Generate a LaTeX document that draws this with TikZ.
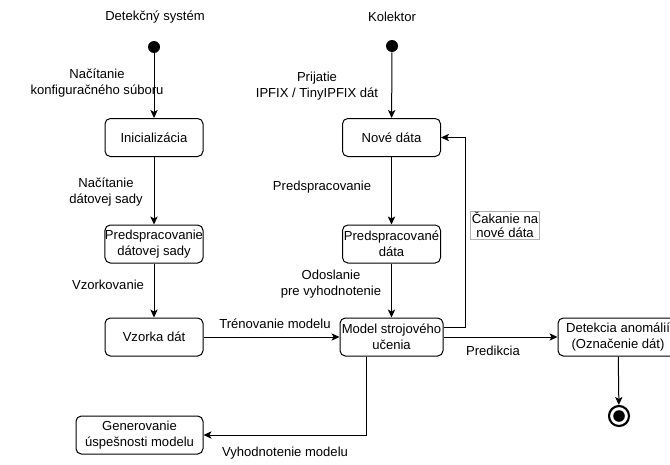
\documentclass[tikz,border=0pt]{standalone}
\usepackage{fontspec}
\setmainfont{Liberation Sans}
\usetikzlibrary{arrows.meta}
\begin{document}
\begin{tikzpicture}[x=0.75pt,y=-0.75pt,
  font=\fontsize{9.8pt}{12.2pt}\selectfont,
  state/.style={draw, rounded corners=4pt, minimum width=73.5pt, minimum height=28.5pt, align=center, inner sep=0pt, line width=0.75pt},
  lbl/.style={align=center, inner sep=0pt},
  startdot/.style={circle, fill=black, minimum size=9pt, inner sep=0pt},
  arr/.style={-{Stealth[length=6pt,width=5.5pt,inset=1.5pt]}, line width=0.75pt}]
\useasboundingbox (0,0) rectangle (670,464);
\clip (0,0) rectangle (670,464);
% titles
\node[lbl] (tdet) at (155,17) {Detekčný systém};
\node[lbl] (tkol) at (392,17) {Kolektor};
% start dots
\node[startdot] (s1) at (154,47) {};
\node[startdot] (s2) at (392,46) {};
% states
\node[state] (init) at (154,137.5) {Inicializácia};
\node[state] (prep1) at (154,244) {Predspracovanie\\dátovej sady};
\node[state] (vz) at (154,337) {Vzorka dát};
\node[state, minimum width=95.25pt] (gen) at (139.5,435) {Generovanie\\úspešnosti modelu};
\node[state] (nove) at (391.5,137.5) {Nové dáta};
\node[state] (prep2) at (391.5,244) {Predspracované\\dáta};
\node[state, minimum width=77.25pt] (model) at (391.5,337) {Model strojového\\učenia};
\node[state, minimum width=90pt] (det) at (618,337) {Detekcia anomálií\\(Označenie dát)};
% end state
\node[circle, draw, line width=1.6pt, minimum size=15pt, inner sep=0pt] (end) at (619,416) {};
\fill (end.center) circle (5.8);
% connectors
\draw[arr] (s1) -- (init);
\draw[arr] (init) -- (prep1);
\draw[arr] (prep1) -- (vz);
\draw[arr] (vz) -- (model);
\draw[arr] (s2) -- (nove);
\draw[arr] (nove) -- (prep2);
\draw[arr] (prep2) -- (model);
\coordinate (loopx) at (465,0);
\draw[arr] ([yshift=7.5pt]model.east) -| (loopx |- nove.east) -- (nove.east);
\draw[arr] (model.east) -- (model.east -| det.west);
\draw[arr] (det) -- (end);
\draw[arr] ([xshift=-18.4pt]model.south) |- (gen.east);
% labels
\node[lbl] (l1) at (97,83) {Načítanie\\konfiguračného súboru};
\node[lbl] (l2) at (106,192) {Načítanie\\dátovej sady};
\node[lbl] (l3) at (108,285) {Vzorkovanie};
\node[lbl] (l4) at (275,324) {Trénovanie modelu};
\node[lbl] (l5) at (317,86) {Prijatie\\IPFIX / TinyIPFIX dát};
\node[lbl] (l6) at (322,187) {Predspracovanie};
\node[lbl] (l7) at (331,284) {Odoslanie\\pre vyhodnotenie};
\node[lbl] (l8) at (493,351) {Predikcia};
\node[lbl] (l9) at (285,453) {Vyhodnotenie modelu};
\node[align=center, draw=gray!60, fill=white, inner sep=1pt, line width=0.5pt, font=\fontsize{9.8pt}{10.5pt}\selectfont] (l10) at (505,225) {Čakanie na\\nové dáta};
\end{tikzpicture}
\end{document}
